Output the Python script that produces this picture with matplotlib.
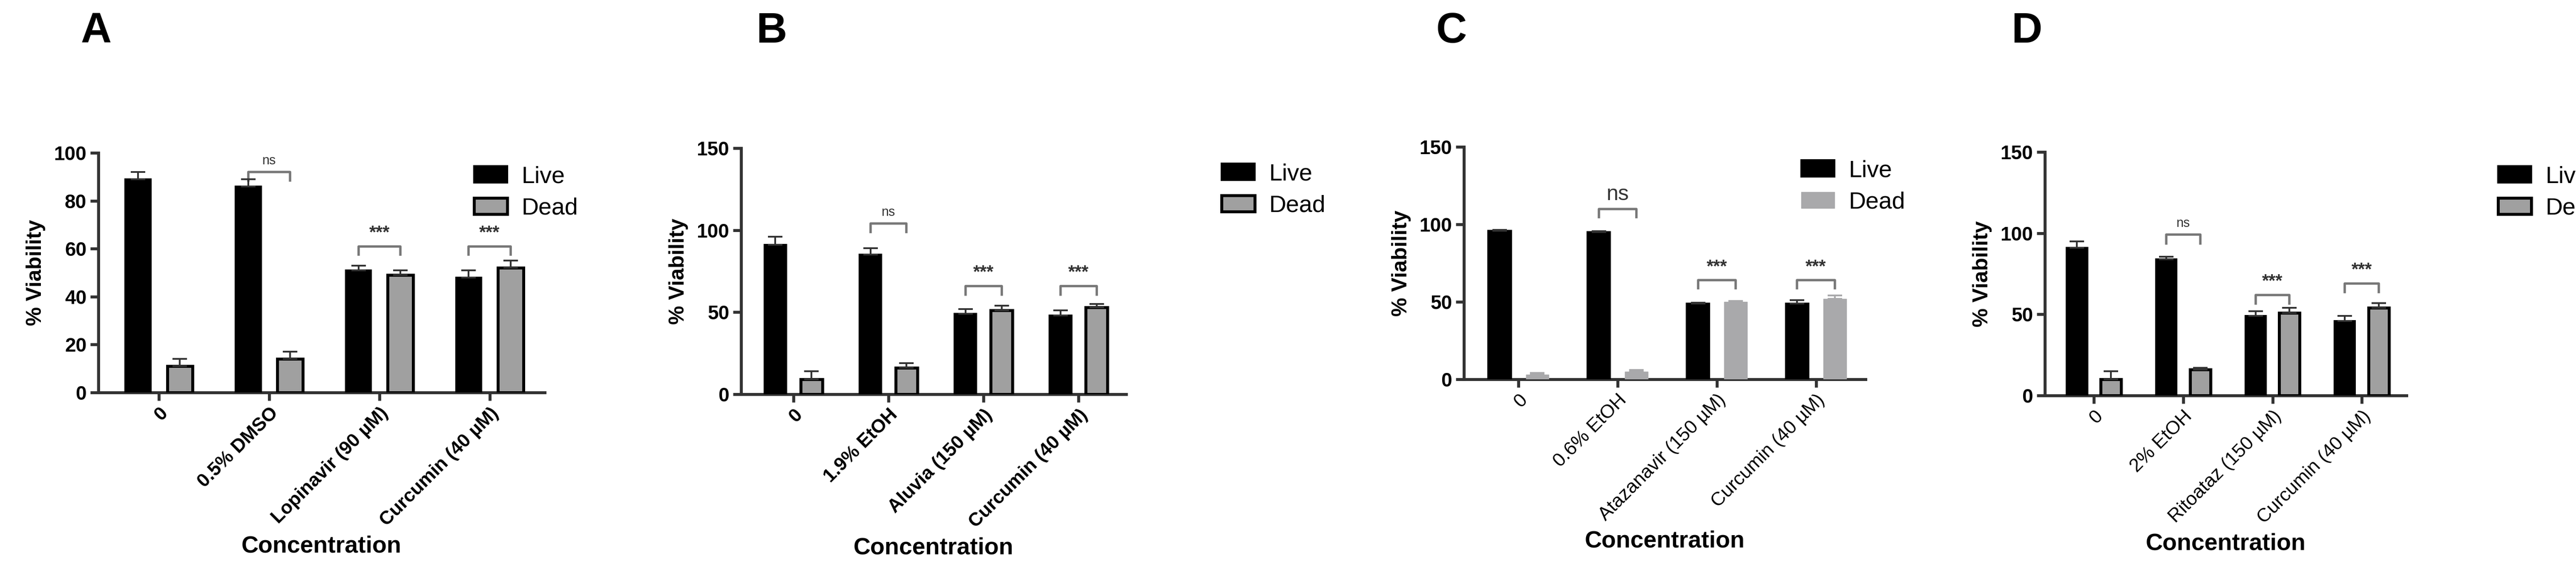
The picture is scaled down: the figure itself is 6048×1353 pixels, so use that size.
import matplotlib
matplotlib.use("Agg")
import matplotlib.pyplot as plt
import numpy as np

plt.rcParams['font.family'] = ['Liberation Sans', 'DejaVu Sans']

panel_letters = ['A', 'B', 'C', 'D']
categories_a = ['0', '0.5% DMSO', 'Lopinavir (90 µM)', 'Curcumin (40 µM)']
categories_b = ['0', '1.9% EtOH', 'Aluvia (150 µM)', 'Curcumin (40 µM)']
categories_c = ['0', '0.6% EtOH', 'Atazanavir (150 µM)', 'Curcumin (40 µM)']
categories_d = ['0', '2% EtOH', 'Ritoataz (150 µM)', 'Curcumin (40 µM)']

live_a = [89, 86, 51, 48]
dead_a = [11, 14, 49, 52]
live_err_a = [3, 3, 2, 3]
dead_err_a = [3, 3, 2, 3]

live_b = [91, 85, 49, 48]
dead_b = [9, 16, 51, 53]
live_err_b = [5, 4, 3, 3]
dead_err_b = [5, 3, 3, 2]

live_c = [96, 95, 49, 49]
dead_c = [3, 5, 50, 52]
live_err_c = [0.5, 0.5, 0.5, 2]
dead_err_c = [1, 1, 0.5, 2]

live_d = [91, 84, 49, 46]
dead_d = [10, 16, 51, 54]
live_err_d = [4, 1.5, 3, 3]
dead_err_d = [5, 1, 3, 3]

# bracket heights (data units) and labels
brackets_a = [(1, 92, 'ns'), (2, 61, '***'), (3, 61, '***')]
brackets_b = [(1, 104, 'ns'), (2, 66, '***'), (3, 66, '***')]
brackets_c = [(1, 110, 'ns'), (2, 64, '***'), (3, 64, '***')]
brackets_d = [(1, 99, 'ns'), (2, 62, '***'), (3, 69, '***')]

W, H = 6048, 1353
fig = plt.figure(figsize=(W / 100, H / 100), dpi=100)


def box(l, r, b, t):
    return [l / W, 1 - b / H, (r - l) / W, (b - t) / H]


panels = [
    dict(rect=box(231, 1279, 922, 359), cats=categories_a, live=live_a, dead=dead_a,
         le=live_err_a, de=dead_err_a, br=brackets_a, ymax=100, step=20,
         letter_x=190, leg=(1091, 397), dead_edge=True, bold=True),
    dict(rect=box(1740, 2644, 926, 348), cats=categories_b, live=live_b, dead=dead_b,
         le=live_err_b, de=dead_err_b, br=brackets_b, ymax=150, step=50,
         letter_x=1775, leg=(2846, 391), dead_edge=True, bold=True),
    dict(rect=box(3437, 4380, 891, 345), cats=categories_c, live=live_c, dead=dead_c,
         le=live_err_c, de=dead_err_c, br=brackets_c, ymax=150, step=50,
         letter_x=3372, leg=(4207, 383), dead_edge=False, bold=False),
    dict(rect=box(4801, 5650, 929, 357), cats=categories_d, live=live_d, dead=dead_d,
         le=live_err_d, de=dead_err_d, br=brackets_d, ymax=150, step=50,
         letter_x=4722, leg=(5843, 397), dead_edge=True, bold=False),
]

for letter, p in zip(panel_letters, panels):
    ax = fig.add_axes(p['rect'])
    x = np.arange(4)
    off, bw = 0.19, 0.23
    ek = dict(ecolor='#333333', capsize=12, elinewidth=3, capthick=3)
    ax.bar(x - off, p['live'], bw, color='black', edgecolor='black', linewidth=3,
           yerr=[np.zeros(4), p['le']], error_kw=ek, label='Live', zorder=3)
    if p['dead_edge']:
        ax.bar(x + off, p['dead'], bw, color='#a0a0a0', edgecolor='black', linewidth=5,
               yerr=[np.zeros(4), p['de']], error_kw=ek, label='Dead', zorder=3)
    else:
        ax.bar(x + off, p['dead'], bw, color='#a9a9ab', edgecolor='#a9a9ab', linewidth=1,
               yerr=[np.zeros(4), p['de']],
               error_kw=dict(ecolor='#a9a9ab', capsize=12, elinewidth=3, capthick=3),
               label='Dead', zorder=3)

    ymax = p['ymax']
    tick_h = ymax * 0.035
    for gi, yb, txt in p['br']:
        ax.plot([gi - off, gi - off, gi + off, gi + off], [yb - tick_h, yb, yb, yb - tick_h],
                color='#777777', lw=4, clip_on=False)
        fs = 22 if txt == 'ns' else 30
        if letter == 'C' and txt == 'ns':
            fs = 36
        ax.text(gi, yb + ymax * 0.02, txt, ha='center', va='bottom', fontsize=fs,
                color='#333333', fontweight='bold' if txt == '***' else 'normal')

    ax.set_xlim(-0.55, 3.5)
    ax.set_ylim(0, ymax)
    ax.set_yticks(np.arange(0, ymax + 1, p['step']))
    ax.set_xticks(x)
    weight = 'bold' if p['bold'] else 'normal'
    ax.set_xticklabels(p['cats'], rotation=45, ha='right', rotation_mode='anchor',
                       fontsize=32, fontweight=weight)
    for lab in ax.get_yticklabels():
        lab.set_fontsize(33)
        lab.set_fontweight('bold')
    ax.spines['top'].set_visible(False)
    ax.spines['right'].set_visible(False)
    for s in ('left', 'bottom'):
        ax.spines[s].set_linewidth(5)
        ax.spines[s].set_color('#333333')
    ax.tick_params(axis='both', length=14, width=5, color='#333333', pad=6)
    ax.set_ylabel('% Viability', fontsize=36, fontweight='bold', labelpad=14)
    ax.set_xlabel('Concentration', fontsize=40, fontweight='bold', labelpad=10)

    fig.text(p['letter_x'] / W, 1 - 74 / H, letter, fontsize=72, fontweight='bold',
             ha='left', va='center')
    lx, ly = p['leg']
    ax.legend(loc='upper left', bbox_to_anchor=(lx / W, 1 - (ly - 30) / H),
              bbox_transform=fig.transFigure, frameon=False, fontsize=40,
              handlelength=1.4, handleheight=0.7, labelspacing=0.4, borderaxespad=0,
              handletextpad=0.6)

fig.savefig('out.png', dpi=100)
